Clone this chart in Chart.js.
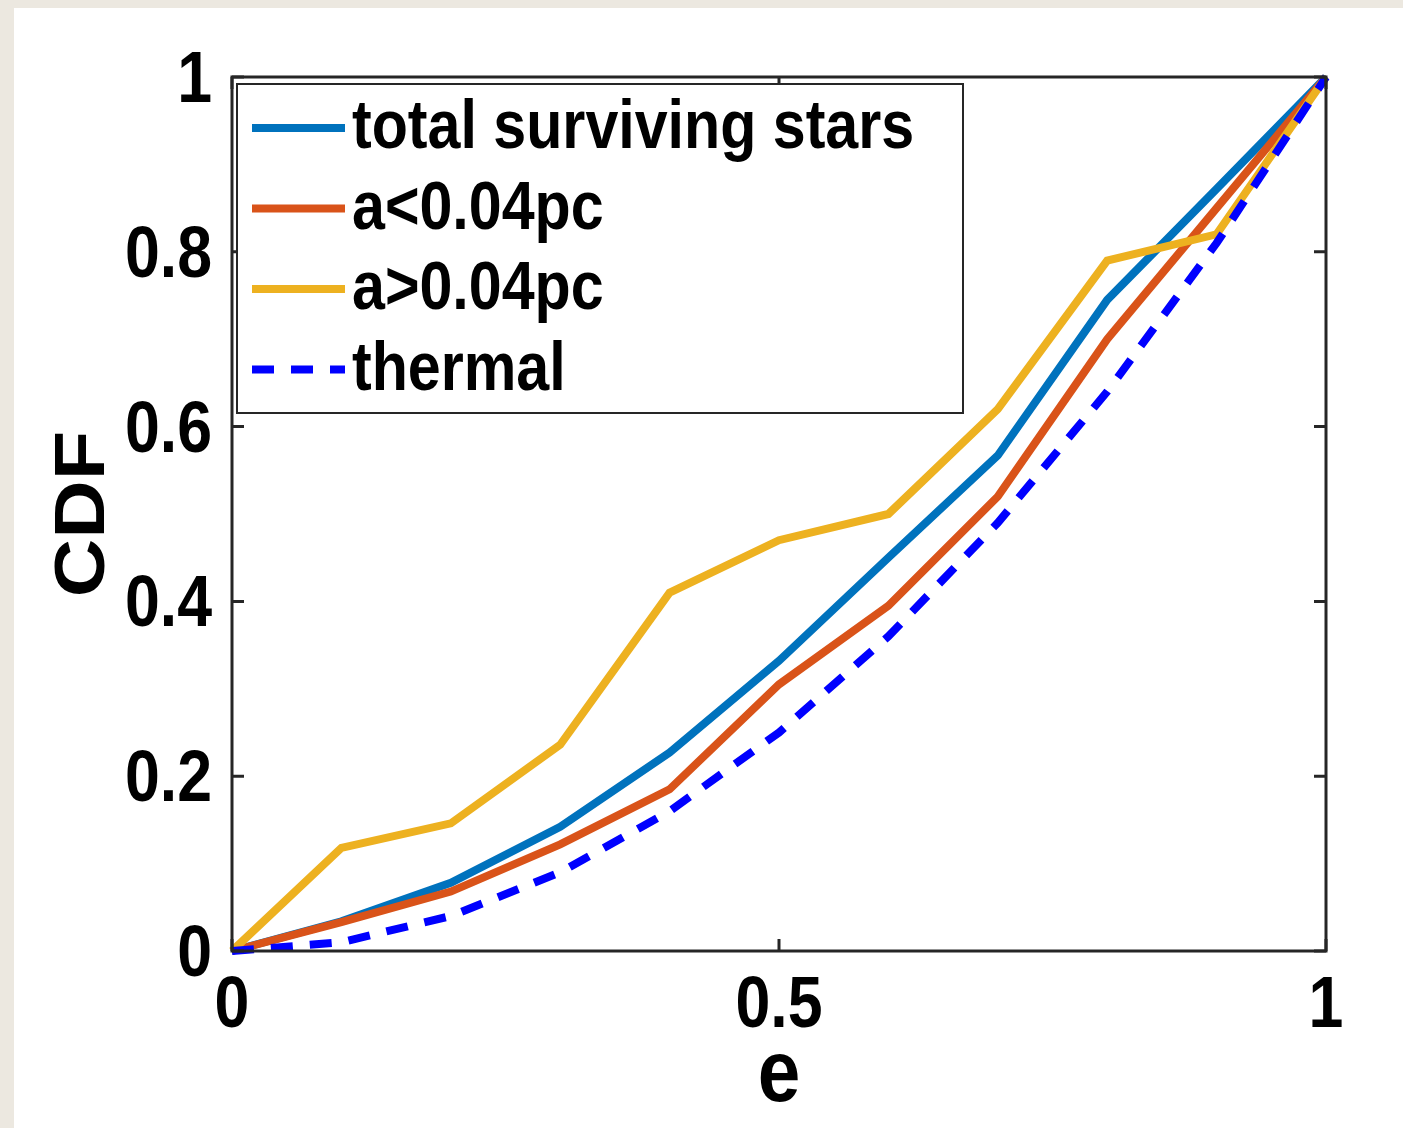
<!DOCTYPE html>
<html>
<head>
<meta charset="utf-8">
<script src="https://cdn.jsdelivr.net/npm/chart.js@4/dist/chart.umd.min.js"></script>
<style>
  html, body { margin: 0; padding: 0; background: #fff; }
  #wrap { width: 1403px; height: 1128px; }
</style>
</head>
<body>
<div id="wrap"><canvas id="cdf"></canvas></div>
<script>
const eccentricity = [0, 0.1, 0.2, 0.3, 0.4, 0.5, 0.6, 0.7, 0.8, 0.9, 1];
const totalSurviving = [0, 0.034, 0.078, 0.142, 0.227, 0.332, 0.45, 0.567, 0.745, 0.872, 1];
const innerStars = [0, 0.033, 0.068, 0.122, 0.185, 0.305, 0.395, 0.52, 0.70, 0.85, 1];
const outerStars = [0, 0.118, 0.146, 0.236, 0.41, 0.47, 0.50, 0.62, 0.79, 0.82, 1];
const thermal = [0, 0.01, 0.04, 0.09, 0.16, 0.25, 0.36, 0.49, 0.64, 0.81, 1];

const seriesLabels = ["total surviving stars", "a<0.04pc", "a>0.04pc", "thermal"];
const xTicks = [0, 0.5, 1];
const yTicks = [0, 0.2, 0.4, 0.6, 0.8, 1];
const xTitle = "e";
const yTitle = "CDF";

const axisColor = "#262626";
const squeeze = 0.87;
const fontFamily = '"Liberation Sans", Arial, sans-serif';

const toPoints = (ys) => ys.map((y, i) => ({ x: eccentricity[i], y }));

function drawText(ctx, text, x, y, align, size, rotate = false) {
  ctx.save();
  ctx.translate(x, y);
  ctx.scale(squeeze, 1);
  if (rotate) ctx.rotate(-Math.PI / 2);
  ctx.font = `bold ${size}px ${fontFamily}`;
  ctx.fillStyle = "#000";
  ctx.textAlign = align;
  ctx.textBaseline = "alphabetic";
  ctx.fillText(text, 0, 0);
  ctx.restore();
}

const matlabAxes = {
  id: "matlabAxes",
  beforeDraw(chart) {
    const ctx = chart.ctx;
    ctx.save();
    ctx.fillStyle = "#ece8e0";
    ctx.fillRect(0, 0, chart.width, chart.height);
    ctx.fillStyle = "#fff";
    ctx.fillRect(14, 8, chart.width - 14, chart.height - 8);
    ctx.restore();
  },
  afterDraw(chart) {
    const ctx = chart.ctx;
    const { left, right, top, bottom } = chart.chartArea;
    const xs = chart.scales.x;
    const ys = chart.scales.y;
    const tick = 12;

    ctx.save();
    ctx.strokeStyle = axisColor;
    ctx.lineWidth = 3;
    ctx.strokeRect(left, top, right - left, bottom - top);
    ctx.beginPath();
    xTicks.forEach((v) => {
      const px = xs.getPixelForValue(v);
      ctx.moveTo(px, bottom);
      ctx.lineTo(px, bottom - tick);
      ctx.moveTo(px, top);
      ctx.lineTo(px, top + tick);
    });
    yTicks.forEach((v) => {
      const py = ys.getPixelForValue(v);
      ctx.moveTo(left, py);
      ctx.lineTo(left + tick, py);
      ctx.moveTo(right, py);
      ctx.lineTo(right - tick, py);
    });
    ctx.stroke();
    ctx.restore();

    xTicks.forEach((v) => drawText(ctx, String(v), xs.getPixelForValue(v), bottom + 76, "center", 72));
    yTicks.forEach((v) => drawText(ctx, String(v), left - 20, ys.getPixelForValue(v) + 25, "right", 72));
    drawText(ctx, xTitle, (left + right) / 2, bottom + 150, "center", 88);
    drawText(ctx, yTitle, 104, (top + bottom) / 2, "center", 81, true);

    // legend box
    const box = { x: 237, y: 84, w: 726, h: 329 };
    ctx.save();
    ctx.fillStyle = "#fff";
    ctx.fillRect(box.x, box.y, box.w, box.h);
    ctx.strokeStyle = axisColor;
    ctx.lineWidth = 2;
    ctx.strokeRect(box.x, box.y, box.w, box.h);
    chart.data.datasets.forEach((ds, i) => {
      const baseY = 148 + i * 80.5;
      ctx.strokeStyle = ds.borderColor;
      ctx.lineWidth = ds.borderWidth;
      ctx.setLineDash(ds.borderDash || []);
      ctx.beginPath();
      ctx.moveTo(252, baseY - 20);
      ctx.lineTo(345, baseY - 20);
      ctx.stroke();
      ctx.setLineDash([]);
      drawText(ctx, ds.label, 352, baseY, "left", 68);
    });
    ctx.restore();
  },
};

const lineStyle = { pointRadius: 0, borderWidth: 8, tension: 0, fill: false, clip: false };

new Chart(document.getElementById("cdf").getContext("2d"), {
  type: "line",
  data: {
    datasets: [
      { label: seriesLabels[0], data: toPoints(totalSurviving), borderColor: "#0072bd", order: 4, ...lineStyle },
      { label: seriesLabels[1], data: toPoints(innerStars), borderColor: "#d95319", order: 3, ...lineStyle },
      { label: seriesLabels[2], data: toPoints(outerStars), borderColor: "#edb120", order: 2, ...lineStyle },
      { label: seriesLabels[3], data: toPoints(thermal), borderColor: "#0000ff", borderDash: [22, 17], order: 1, ...lineStyle },
    ],
  },
  options: {
    animation: false,
    responsive: true,
    maintainAspectRatio: false,
    layout: { padding: { left: 224, top: 77, right: 77, bottom: 169 } },
    scales: {
      x: {
        type: "linear",
        min: 0,
        max: 1,
        ticks: { display: false },
        grid: { display: false },
        border: { display: false },
      },
      y: {
        min: 0,
        max: 1,
        ticks: { display: false },
        grid: { display: false },
        border: { display: false },
      },
    },
    plugins: {
      legend: { display: false },
      tooltip: { enabled: false },
    },
  },
  plugins: [matlabAxes],
});
</script>
</body>
</html>
